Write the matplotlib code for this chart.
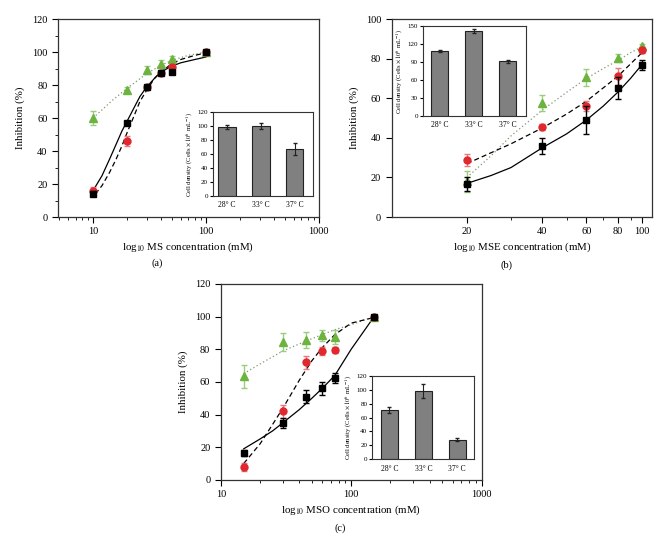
import matplotlib
matplotlib.use("Agg")
import matplotlib.pyplot as plt
from matplotlib.ticker import FixedLocator, NullFormatter, MultipleLocator

plt.rcParams["font.family"] = ["Liberation Serif", "DejaVu Serif"]
plt.rcParams["mathtext.fontset"] = "stix"

# ---- data: panel (a) MS ----
a_x = [10, 20, 30, 40, 50, 100]
a_black = [14, 57, 79, 87, 88, 100]
a_black_err = [1.5, 1, 1, 1, 1, 0.5]
a_red = [16, 46, 79, 87, 91, 100]
a_red_err = [2, 3, 1, 1, 2, 0.5]
a_green = [60, 77, 89, 93, 96, 100]
a_green_err = [4, 2, 2.5, 2, 1.5, 0.5]

a_fit_black_x = [10, 12, 14, 16, 18, 20, 23, 26, 30, 35, 40, 50, 60, 80, 100]
a_fit_black_y = [16, 25, 35, 44, 52, 58, 66, 73, 79, 84, 88, 91.5, 93.5, 95.5, 97]
a_fit_red_x = [10.5, 12, 14, 16, 18, 20, 23, 26, 30, 35, 40, 50, 60, 80, 100]
a_fit_red_y = [14, 19, 27, 35, 43, 51, 61, 70, 77, 84, 88, 93, 95.5, 98, 99.5]
a_fit_green_x = [10, 15, 20, 30, 40, 50, 70, 100]
a_fit_green_y = [60, 71, 78, 87, 92, 95, 98, 100]

# ---- data: panel (b) MSE ----
b_x = [20, 40, 60, 80, 100]
b_black = [16.5, 36, 49, 65, 77]
b_black_err = [3.5, 4, 7, 5.5, 2.5]
b_red = [29, 45.5, 56, 71, 84.5]
b_red_err = [3, 1.5, 2.5, 4.5, 1.5]
b_green = [18, 57.5, 70.5, 80.5, 86.5]
b_green_err = [5.5, 4, 4.5, 2, 1]

b_fit_black_x = [20, 25, 30, 40, 50, 60, 70, 80, 90, 100]
b_fit_black_y = [17, 21, 25, 35, 42, 49, 56, 63, 70, 77]
b_fit_red_x = [20, 30, 40, 50, 60, 80, 100]
b_fit_red_y = [27, 37, 45, 52, 58.5, 71, 83]
b_fit_green_x = [20, 25, 30, 40, 50, 60, 70, 80, 90, 100]
b_fit_green_y = [20, 31, 41, 54, 63, 70, 75, 79, 83, 86]

# ---- data: panel (c) MSO ----
c_x = [15, 30, 45, 60, 75, 150]
c_black = [16.5, 35, 51, 56, 62.5, 100]
c_black_err = [2, 3, 4, 4, 3, 0.5]
c_red = [8, 42, 72, 79, 79.5, 100]
c_red_err = [2.5, 4, 4, 2.5, 2, 0.5]
c_green = [63.5, 84.5, 85.5, 88.5, 87.5, 100]
c_green_err = [7, 5.5, 5, 3.5, 4, 0.5]

c_fit_black_x = [15, 20, 25, 30, 40, 50, 60, 75, 100, 150]
c_fit_black_y = [19, 25, 30, 35, 43, 50, 56, 64, 80, 100]
c_fit_red_x = [15, 20, 25, 30, 40, 50, 60, 75, 100, 150]
c_fit_red_y = [10, 22, 34, 44, 61, 73, 81, 89, 96, 99.5]
c_fit_green_x = [15, 20, 30, 45, 60, 75, 100, 150]
c_fit_green_y = [65, 71, 79, 85, 89, 92, 95, 100]

# ---- inset bars ----
temps = ["28° C", "33° C", "37° C"]
a_cells = [99, 100, 67]
a_cells_err = [3, 4.5, 9]
b_cells = [108, 142, 91]
b_cells_err = [2, 4, 2]
c_cells = [71, 98, 28]
c_cells_err = [4, 10, 2]

BLACK = "black"
RED = "#e0282e"
GREEN = "#6db33f"
GREEN_ERR = "#9ccc80"
RED_ERR = "#e87a7e"


def draw_main(ax, x, blk, blk_e, red, red_e, grn, grn_e, fits):
    (fbx, fby), (frx, fry), (fgx, fgy) = fits
    ax.plot(fgx, fgy, ls=(0, (1, 2)), color="#7a9a6a", lw=0.9, zorder=2)
    ax.plot(frx, fry, ls=(0, (4, 2.5)), color=BLACK, lw=0.9, zorder=2)
    ax.plot(fbx, fby, ls="-", color=BLACK, lw=0.9, zorder=2)
    ax.errorbar(x, grn, yerr=grn_e, fmt="^", color=GREEN, ecolor=GREEN_ERR,
                ms=5.5, capsize=2.5, elinewidth=1, zorder=3)
    ax.errorbar(x, red, yerr=red_e, fmt="o", color=RED, ecolor=RED_ERR,
                ms=5, capsize=2.5, elinewidth=1, zorder=4)
    ax.errorbar(x, blk, yerr=blk_e, fmt="s", color=BLACK, ecolor=BLACK,
                ms=4.5, capsize=2.5, elinewidth=1, zorder=5)
    ax.set_xscale("log")
    ax.set_ylabel("Inhibition (%)", fontsize=7.8, labelpad=5)
    ax.tick_params(labelsize=7.5, direction="out", length=4, width=0.8)
    ax.tick_params(which="minor", direction="out", length=2.5, width=0.6)
    for s in ax.spines.values():
        s.set_linewidth(0.9)
        s.set_color("#333333")


def draw_inset(ax, vals, errs, ymax, ystep, xlim):
    ax.bar(range(3), vals, width=0.51, color="#808080", edgecolor="#222222", lw=0.8)
    ax.errorbar(range(3), vals, yerr=errs, fmt="none", ecolor="#222222",
                elinewidth=0.8, capsize=1.2)
    ax.set_xlim(*xlim)
    ax.set_ylim(0, ymax)
    ax.yaxis.set_major_locator(MultipleLocator(ystep))
    ax.set_xticks(range(3))
    ax.set_xticklabels(temps)
    ax.tick_params(axis="x", length=0, labelsize=5.5, pad=4)
    ax.tick_params(axis="y", labelsize=5, length=2, direction="out", pad=1.5)
    ax.set_ylabel("Cell density (Cells $\\times10^{6}$ mL$^{-1}$)", fontsize=4.8, labelpad=2)
    for s in ax.spines.values():
        s.set_linewidth(0.8)
        s.set_color("#333333")


fig = plt.figure(figsize=(6.67, 5.44), dpi=100)

# panel (a)
ax_a = fig.add_axes([0.087, 0.601, 0.391, 0.364])
draw_main(ax_a, a_x, a_black, a_black_err, a_red, a_red_err, a_green, a_green_err,
          [(a_fit_black_x, a_fit_black_y), (a_fit_red_x, a_fit_red_y),
           (a_fit_green_x, a_fit_green_y)])
ax_a.set_xlim(4.9, 1000)
ax_a.set_ylim(0, 120)
ax_a.set_yticks(range(0, 121, 20))
ax_a.yaxis.set_minor_locator(MultipleLocator(10))
ax_a.set_xticks([10, 100, 1000])
ax_a.set_xticklabels(["10", "100", "1000"])
ax_a.set_xlabel("log$_{10}$ MS concentration (mM)", fontsize=7.8, labelpad=3)
fig.text(0.235, 0.5165, "(a)", ha="center", va="center", fontsize=7.5)

ins_a = fig.add_axes([0.319, 0.640, 0.150, 0.154])
draw_inset(ins_a, a_cells, a_cells_err, 120, 20, (-0.42, 2.53))

# panel (b)
ax_b = fig.add_axes([0.587, 0.601, 0.391, 0.364])
draw_main(ax_b, b_x, b_black, b_black_err, b_red, b_red_err, b_green, b_green_err,
          [(b_fit_black_x, b_fit_black_y), (b_fit_red_x, b_fit_red_y),
           (b_fit_green_x, b_fit_green_y)])
ax_b.set_xlim(10, 110)
ax_b.set_ylim(0, 100)
ax_b.set_yticks(range(0, 101, 20))
ax_b.xaxis.set_major_locator(FixedLocator([20, 40, 60, 80, 100]))
ax_b.set_xticklabels(["20", "40", "60", "80", "100"])
ax_b.xaxis.set_minor_formatter(NullFormatter())
ax_b.set_xlabel("log$_{10}$ MSE concentration (mM)", fontsize=7.8, labelpad=3)
fig.text(0.760, 0.513, "(b)", ha="center", va="center", fontsize=7.5)

ins_b = fig.add_axes([0.634, 0.787, 0.154, 0.165])
draw_inset(ins_b, b_cells, b_cells_err, 150, 30, (-0.5, 2.53))

# panel (c)
ax_c = fig.add_axes([0.331, 0.118, 0.391, 0.360])
draw_main(ax_c, c_x, c_black, c_black_err, c_red, c_red_err, c_green, c_green_err,
          [(c_fit_black_x, c_fit_black_y), (c_fit_red_x, c_fit_red_y),
           (c_fit_green_x, c_fit_green_y)])
ax_c.set_xlim(10, 1000)
ax_c.set_ylim(0, 120)
ax_c.set_yticks(range(0, 121, 20))
ax_c.set_xticks([10, 100, 1000])
ax_c.set_xticklabels(["10", "100", "1000"])
ax_c.set_xlabel("log$_{10}$ MSO concentration (mM)", fontsize=7.8, labelpad=3)
fig.text(0.51, 0.029, "(c)", ha="center", va="center", fontsize=7.5)

ins_c = fig.add_axes([0.558, 0.156, 0.153, 0.153])
draw_inset(ins_c, c_cells, c_cells_err, 120, 20, (-0.51, 2.5))

fig.savefig("out.png", dpi=100)
